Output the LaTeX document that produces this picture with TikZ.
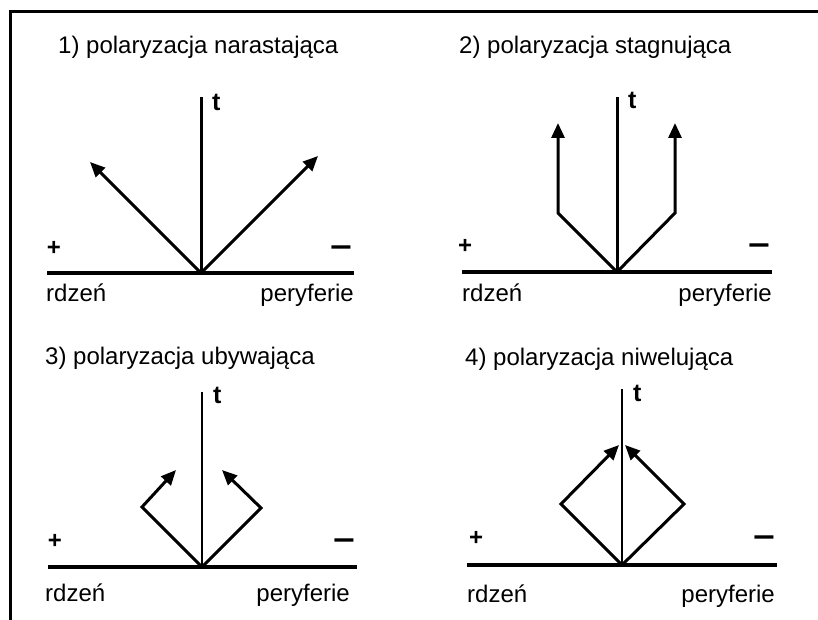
\documentclass[tikz,border=0pt]{standalone}
\usepackage{fontspec}
\setmainfont{Liberation Sans}
\usetikzlibrary{arrows.meta}
\begin{document}
\begin{tikzpicture}[x=1pt,y=-1pt,
  frameline/.style={line width=3pt},
  baseline axis/.style={line width=4pt},
  taxis/.style={line width=3pt},
  taxisthin/.style={line width=2.4pt},
  arr/.style={line width=3pt,line join=miter,-{Triangle[length=15pt,width=13pt]}},
  lbl/.style={font=\fontsize{24}{28}\selectfont,inner sep=0pt},
  tlbl/.style={font=\bfseries\fontsize{25}{28}\selectfont,inner sep=0pt,anchor=base west},
  plus/.style={font=\bfseries\fontsize{24}{28}\selectfont,inner sep=0pt,anchor=base},
  minus/.style={font=\bfseries\fontsize{24}{28}\selectfont,inner sep=0pt,anchor=base,xscale=1.6,yscale=1.4}]
\useasboundingbox (0,0) rectangle (818,620);
% frame
\coordinate (fr) at (818,12);
\coordinate (fc) at (10,12);
\coordinate (fb) at (10,620);
\draw[frameline] (fr) -- (fc) -- (fb);

% ---------- panel 1 ----------
\node[lbl,anchor=base west] (title1) at (58,54) {1) polaryzacja narastająca};
\coordinate (o1) at (201,273);
\coordinate (top1) at (201,97);
\coordinate (hl1) at (47,273);
\coordinate (hr1) at (354,273);
\draw[baseline axis] (hl1) -- (hr1);
\draw[taxis] (o1) -- (top1);
\coordinate (a1l) at (90,162);
\coordinate (a1r) at (318,156);
\draw[arr] (o1) -- (a1l);
\draw[arr] (o1) -- (a1r);
\node[tlbl] (t1) at (212,111) {t};
\node[plus] (p1) at (54,255) {+};
\node[minus] (m1) at (341,256) {–};
\node[lbl,anchor=base west] (r1) at (46,301) {rdzeń};
\node[lbl,anchor=base east] (pe1) at (354,301) {peryferie};

% ---------- panel 2 ----------
\node[lbl,anchor=base west] (title2) at (459,54) {2) polaryzacja stagnująca};
\coordinate (o2) at (617,272);
\coordinate (top2) at (617,97);
\coordinate (hl2) at (462,272);
\coordinate (hr2) at (772,272);
\draw[baseline axis] (hl2) -- (hr2);
\draw[taxis] (o2) -- (top2);
\coordinate (b2l) at (558,213);
\coordinate (a2l) at (558,123);
\coordinate (b2r) at (675,213);
\coordinate (a2r) at (675,123);
\draw[arr] (o2) -- (b2l) -- (a2l);
\draw[arr] (o2) -- (b2r) -- (a2r);
\node[tlbl] (t2) at (628,109) {t};
\node[plus] (p2) at (465,253) {+};
\node[minus] (m2) at (759,254) {–};
\node[lbl,anchor=base west] (r2) at (462,301) {rdzeń};
\node[lbl,anchor=base east] (pe2) at (772,301) {peryferie};

% ---------- panel 3 ----------
\node[lbl,anchor=base west] (title3) at (45,364) {3) polaryzacja ubywająca};
\coordinate (o3) at (202,567);
\coordinate (top3) at (202,392);
\coordinate (hl3) at (48,567);
\coordinate (hr3) at (357,567);
\draw[baseline axis] (hl3) -- (hr3);
\draw[taxisthin] (o3) -- (top3);
\coordinate (b3l) at (142,507);
\coordinate (a3l) at (176,470);
\coordinate (b3r) at (261,508);
\coordinate (a3r) at (222,470);
\draw[arr] (o3) -- (b3l) -- (a3l);
\draw[arr] (o3) -- (b3r) -- (a3r);
\node[tlbl] (t3) at (213,403) {t};
\node[plus] (p3) at (55,548) {+};
\node[minus] (m3) at (344,549) {–};
\node[lbl,anchor=base west] (r3) at (45,601) {rdzeń};
\node[lbl,anchor=base east] (pe3) at (350,601) {peryferie};

% ---------- panel 4 ----------
\node[lbl,anchor=base west] (title4) at (465,365) {4) polaryzacja niwelująca};
\coordinate (o4) at (622,565);
\coordinate (top4) at (622,389);
\coordinate (hl4) at (467,565);
\coordinate (hr4) at (777,565);
\draw[baseline axis] (hl4) -- (hr4);
\draw[taxisthin] (o4) -- (top4);
\coordinate (b4l) at (561,504);
\coordinate (a4l) at (619,445);
\coordinate (b4r) at (684,504);
\coordinate (a4r) at (625,445);
\draw[arr] (o4) -- (b4l) -- (a4l);
\draw[arr] (o4) -- (b4r) -- (a4r);
\node[tlbl] (t4) at (633,401) {t};
\node[plus] (p4) at (476,545) {+};
\node[minus] (m4) at (764,546) {–};
\node[lbl,anchor=base west] (r4) at (467,602) {rdzeń};
\node[lbl,anchor=base east] (pe4) at (775,602) {peryferie};
\end{tikzpicture}
\end{document}
